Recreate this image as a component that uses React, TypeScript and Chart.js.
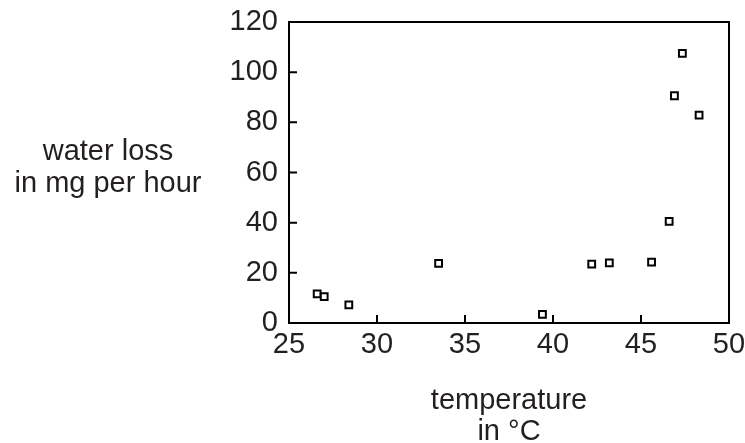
import React, { useEffect, useRef } from "react";
import { Chart, registerables } from "chart.js";

Chart.register(...registerables);

const temperatures = [26.6, 27.0, 28.4, 33.5, 39.4, 42.2, 43.2, 45.6, 46.6, 46.9, 47.35, 48.3];
const waterLoss = [11.6, 10.5, 7.2, 23.8, 3.4, 23.5, 24.0, 24.3, 40.5, 90.6, 107.5, 82.9];
const xTicks = [25, 30, 35, 40, 45, 50];
const yTicks = [0, 20, 40, 60, 80, 100, 120];
const yTitle = ["water loss", "in mg per hour"];
const xTitle = ["temperature", "in °C"];

const FONT = "'Liberation Sans', Arial, Helvetica, sans-serif";
const TEXT = "#231f20";
const SIZE = 29;

const framePlugin = {
  id: "frame",
  afterDraw(chart: any) {
    const { ctx, chartArea, scales } = chart;
    const { left, right, top, bottom } = chartArea;
    ctx.save();
    ctx.strokeStyle = "#000";
    ctx.lineWidth = 2;
    ctx.strokeRect(left, top, right - left, bottom - top);
    const tl = 8;
    ctx.beginPath();
    yTicks.slice(1, -1).forEach((v) => {
      const y = scales.y.getPixelForValue(v);
      ctx.moveTo(left, y);
      ctx.lineTo(left + tl, y);
    });
    xTicks.slice(1, -1).forEach((v) => {
      const x = scales.x.getPixelForValue(v);
      ctx.moveTo(x, bottom);
      ctx.lineTo(x, bottom - tl);
    });
    ctx.stroke();

    ctx.fillStyle = TEXT;
    ctx.font = `${SIZE}px ${FONT}`;
    ctx.textAlign = "center";
    ctx.textBaseline = "alphabetic";
    ctx.fillText(yTitle[0], 108, 160);
    ctx.fillText(yTitle[1], 108, 192);
    const cx = (left + right) / 2;
    ctx.fillText(xTitle[0], cx, 409);
    ctx.fillText(xTitle[1], cx, 440);
    ctx.restore();
  },
};

export default function App() {
  const ref = useRef<HTMLCanvasElement | null>(null);
  useEffect(() => {
    if (!ref.current) return;
    const chart = new Chart(ref.current, {
      type: "scatter",
      data: {
        datasets: [
          {
            data: temperatures.map((t, i) => ({ x: t, y: waterLoss[i] })),
            pointStyle: "rect",
            pointRadius: 4.8,
            pointBorderWidth: 2,
            borderColor: "#000",
            backgroundColor: "#fff",
            showLine: false,
          },
        ],
      },
      options: {
        responsive: false,
        animation: false,
        layout: { padding: { top: 22, right: 16, left: 0, bottom: 0 } },
        plugins: { legend: { display: false }, tooltip: { enabled: false } },
        scales: {
          x: {
            type: "linear",
            min: xTicks[0],
            max: xTicks[xTicks.length - 1],
            afterBuildTicks: (s: any) => {
              s.ticks = xTicks.map((v) => ({ value: v }));
            },
            afterFit: (s: any) => {
              s.height = 120;
              s.paddingLeft = 0;
              s.paddingRight = 0;
            },
            grid: { display: false, drawTicks: false },
            border: { display: false },
            ticks: {
              padding: 5,
              color: TEXT,
              font: { family: FONT, size: SIZE },
              maxRotation: 0,
              autoSkip: false,
            },
          },
          y: {
            type: "linear",
            min: yTicks[0],
            max: yTicks[yTicks.length - 1],
            afterBuildTicks: (s: any) => {
              s.ticks = yTicks.map((v) => ({ value: v }));
            },
            afterFit: (s: any) => {
              s.width = 289;
              s.paddingTop = 0;
              s.paddingBottom = 0;
            },
            grid: { display: false, drawTicks: false },
            border: { display: false },
            ticks: {
              padding: 11,
              color: TEXT,
              font: { family: FONT, size: SIZE },
              autoSkip: false,
            },
          },
        },
      },
      plugins: [framePlugin],
    });
    return () => chart.destroy();
  }, []);
  return (
    <canvas
      ref={ref}
      width={745}
      height={443}
      style={{ position: "absolute", left: 0, top: 0, width: 745, height: 443 }}
    />
  );
}
